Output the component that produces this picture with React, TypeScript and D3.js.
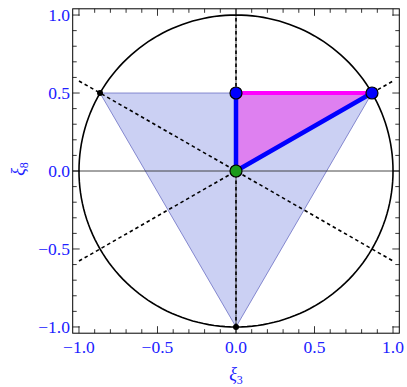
import React from 'react';
import * as d3 from 'd3';

const WIDTH = 407;
const HEIGHT = 387;

const S3 = Math.sqrt(3) / 2;
const T30 = Math.tan(Math.PI / 6);

// weight triangle (xi3, xi8)
const triangle: [number, number][] = [[-S3, 0.5], [S3, 0.5], [0, -1]];
const wedge: [number, number][] = [[0, 0], [0, 0.5], [S3, 0.5]];
const blueSegments: [number, number][][] = [[[0, 0], [0, 0.5]], [[0, 0], [S3, 0.5]]];
const dashedLines: [number, number][][] = [
    [[0, -1], [0, 1]],
    [[-1, T30], [1, -T30]],
    [[-1, -T30], [1, T30]],
];
const smallDots: [number, number][] = [[-S3, 0.5], [0, -1]];
const bluePoints: [number, number][] = [[0, 0.5], [S3, 0.5]];
const greenPoint: [number, number] = [0, 0];
const majorTicks = [-1, -0.5, 0, 0.5, 1];
const minorTicks = d3.range(-10, 11).map(i => i / 10);

const LABEL = '#2020ff';
const SERIF = '"Liberation Serif", "Times New Roman", "DejaVu Serif", serif';

const fmt = (v: number) => (v < 0 ? '\u2212' : '') + Math.abs(v).toFixed(1);

const App = () => {
    const x = d3.scaleLinear().domain([-1.04, 1.04]).range([72.7, 399.3]);
    const y = d3.scaleLinear().domain([-1.04, 1.04]).range([333.2, 8.8]);
    const [x0, x1] = x.range();
    const [y0, y1] = y.range();

    const line = d3.line<[number, number]>().x(d => x(d[0])).y(d => y(d[1]));
    const circle = d3.line<number>()
        .x(a => x(Math.cos(a)))
        .y(a => y(Math.sin(a)))
        .curve(d3.curveLinearClosed);
    const angles = d3.range(0, 360, 2).map(a => a * Math.PI / 180);

    return (
        <svg width={WIDTH} height={HEIGHT} style={{ position: 'absolute', left: 0, top: 0, fontFamily: SERIF }}>
            <rect width={WIDTH} height={HEIGHT} fill="#fff" />
            <path d={line(triangle) + 'Z'} fill="rgb(203,208,243)" stroke="#6c70c4" strokeWidth={0.8} />
            <path d={line(wedge) + 'Z'} fill="rgb(222,128,240)" />
            <line x1={x0} x2={x1} y1={y(0)} y2={y(0)} stroke="#333" strokeWidth={0.9} />
            <line x1={x(0)} x2={x(0)} y1={y0} y2={y1} stroke="#333" strokeWidth={0.9} />
            <path d={circle(angles) ?? ''} fill="none" stroke="#000" strokeWidth={1.6} />
            {dashedLines.map((d, i) =>
                <path key={i} d={line(d) ?? ''} stroke="#000" strokeWidth={1.6} strokeDasharray="3.5,3" fill="none" />
            )}
            <path d={line([[0, 0.5], [S3, 0.5]]) ?? ''} stroke="#ff00ff" strokeWidth={4} />
            {blueSegments.map((d, i) =>
                <path key={i} d={line(d) ?? ''} stroke="#0000ff" strokeWidth={4.5} strokeLinecap="round" />
            )}
            {smallDots.map((d, i) =>
                <circle key={i} cx={x(d[0])} cy={y(d[1])} r={3} fill="#000" />
            )}
            {bluePoints.map((d, i) =>
                <circle key={i} cx={x(d[0])} cy={y(d[1])} r={6} fill="#0000ff" stroke="#000" strokeWidth={1.2} />
            )}
            <circle cx={x(greenPoint[0])} cy={y(greenPoint[1])} r={6} fill="#1a9a1a" stroke="#000" strokeWidth={1.2} />

            <rect x={x0} y={y1} width={x1 - x0} height={y0 - y1} fill="none" stroke="#000" strokeWidth={1} />
            {minorTicks.map(t => {
                const len = majorTicks.some(m => Math.abs(m - t) < 1e-9) ? 7 : 4;
                return (
                    <g key={t} stroke="#000" strokeWidth={0.8}>
                        <line x1={x(t)} x2={x(t)} y1={y0} y2={y0 - len} />
                        <line x1={x(t)} x2={x(t)} y1={y1} y2={y1 + len} />
                        <line x1={x0} x2={x0 + len} y1={y(t)} y2={y(t)} />
                        <line x1={x1} x2={x1 - len} y1={y(t)} y2={y(t)} />
                    </g>
                );
            })}
            {majorTicks.map(t =>
                <text key={'x' + t} x={x(t)} y={353} textAnchor="middle" fontSize={17.5} fill={LABEL}>{fmt(t)}</text>
            )}
            {majorTicks.map(t =>
                <text key={'y' + t} x={70} y={y(t) + 6} textAnchor="end" fontSize={17.5} fill={LABEL}>{fmt(t)}</text>
            )}
            <text x={x(0)} y={380} textAnchor="middle" fontSize={18} fill={LABEL} fontStyle="italic">
                ξ<tspan fontSize={12} dy={4} fontStyle="normal">3</tspan>
            </text>
            <text transform={`translate(24, ${y(0) - 2}) rotate(-90)`} textAnchor="middle" fontSize={18} fill={LABEL} fontStyle="italic">
                ξ<tspan fontSize={12} dy={4} fontStyle="normal">8</tspan>
            </text>
        </svg>
    );
};

export default App;
